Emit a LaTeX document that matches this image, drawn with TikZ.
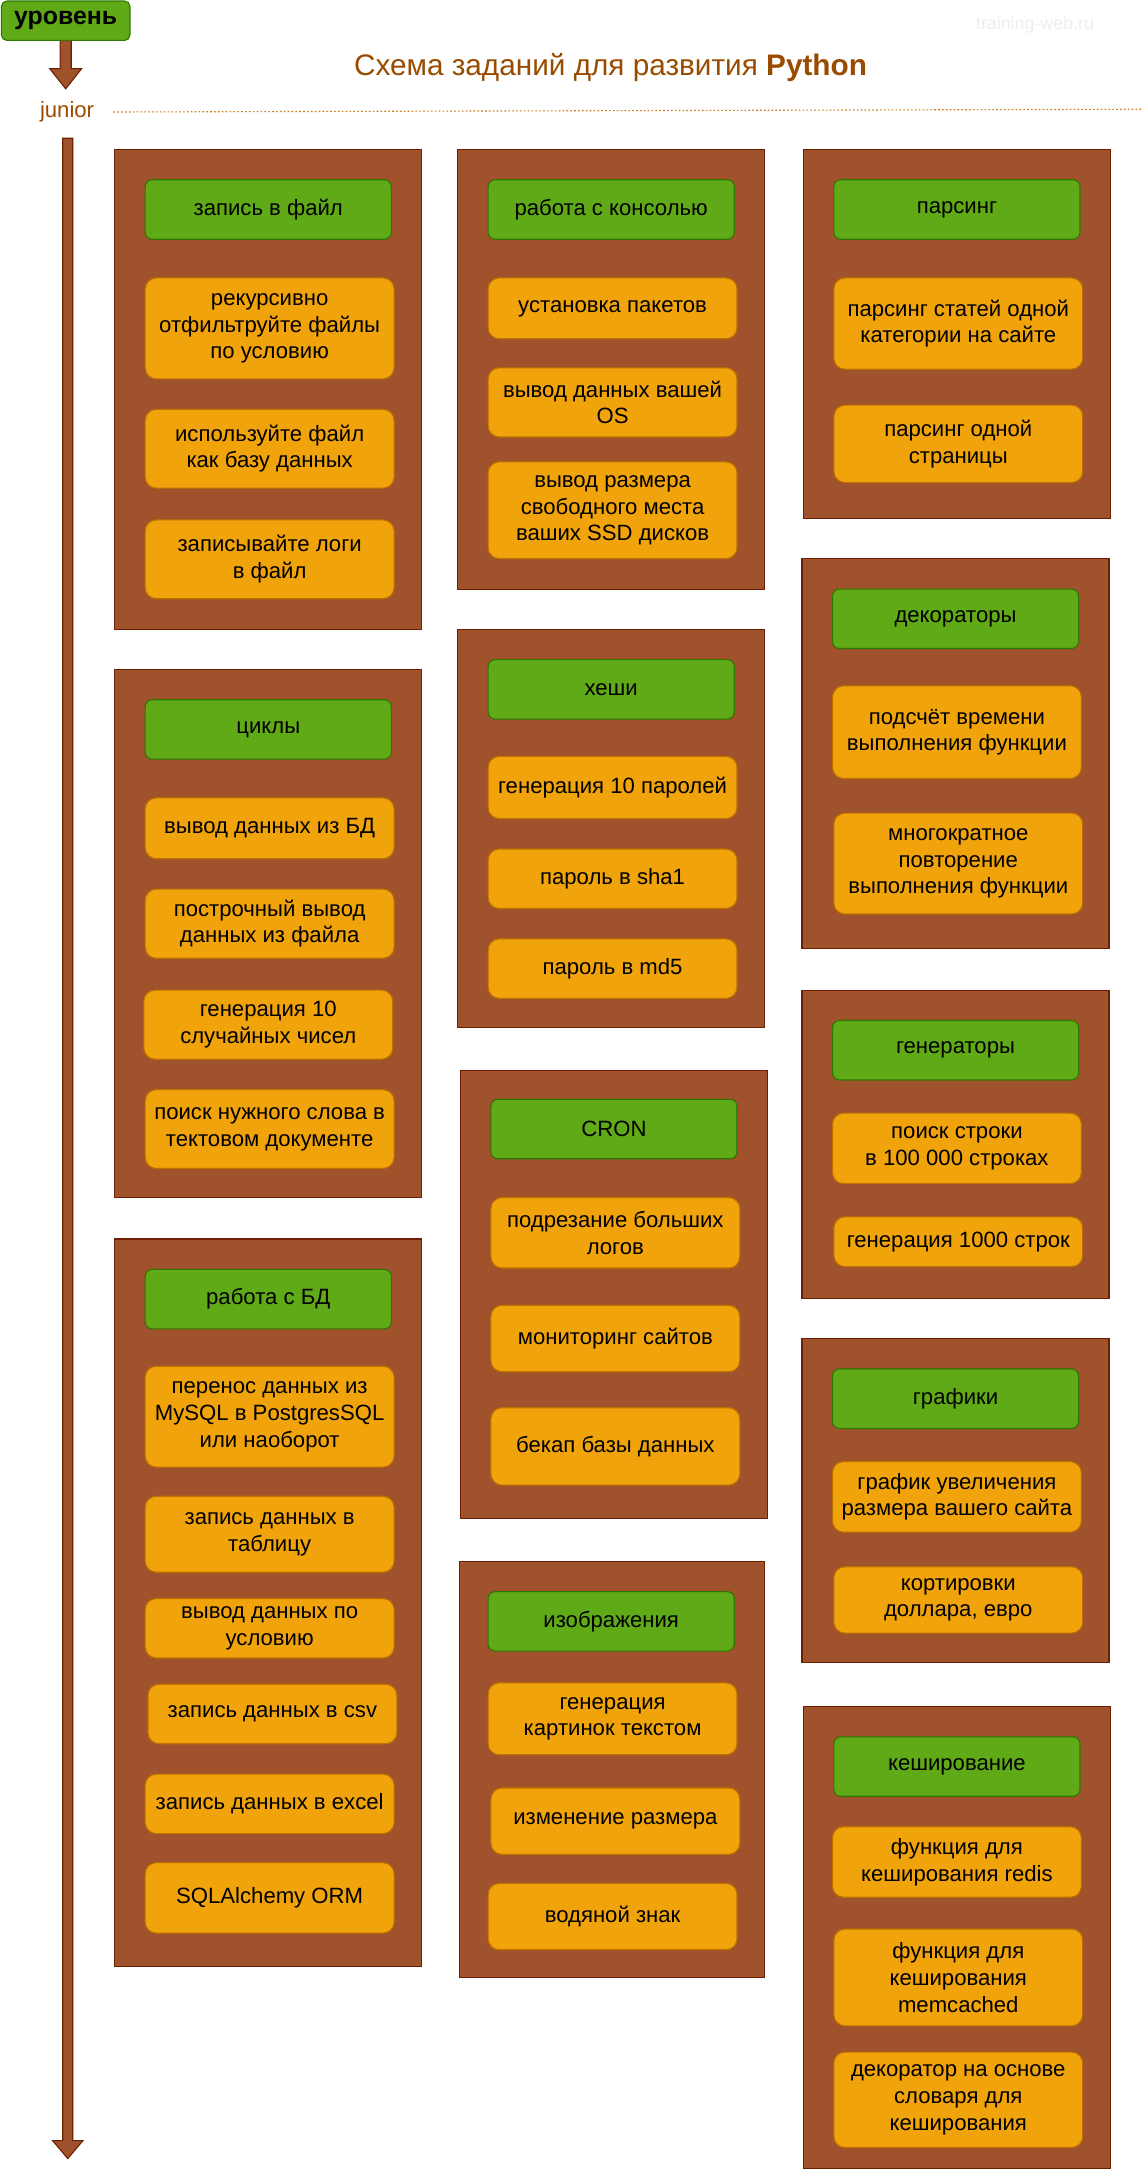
\documentclass[tikz,border=0pt]{standalone}
\usepackage{fontspec}
\setmainfont{Liberation Sans}
\definecolor{sienna}{HTML}{A0522D}
\definecolor{siennadark}{HTML}{6D1F00}
\definecolor{grn}{HTML}{60A917}
\definecolor{grndark}{HTML}{2D7600}
\definecolor{amber}{HTML}{F0A30A}
\definecolor{amberdark}{HTML}{BD7000}
\definecolor{titlec}{HTML}{994C00}
\definecolor{dotc}{HTML}{D07A1A}
\definecolor{wmark}{HTML}{EEEEEE}
\tikzset{
  panel/.style={draw=siennadark, fill=sienna, line width=0.8pt, inner sep=0pt},
  hdr/.style={draw=grndark, fill=grn, line width=0.8pt, rounded corners=5pt, align=center, inner sep=0pt,
    font=\fontsize{16}{19.3}\selectfont},
  task/.style={draw=amberdark, fill=amber, line width=0.8pt, rounded corners=8pt, align=center, inner sep=0pt,
    font=\fontsize{16}{19.3}\selectfont},
  blockarrow/.style={draw=siennadark, fill=sienna, line width=0.8pt, line join=miter},
}
\newcommand\bx[7]{\node[#1, minimum width={#5-#3}, minimum height={#6-#4}] (#2) at ({(#3+#5)/2},{(#4+#6)/2}) {#7};}
\newcommand\pnl[5]{\node[panel, minimum width={#4-#2}, minimum height={#5-#3}] (#1) at ({(#2+#4)/2},{(#3+#5)/2}) {};}
\begin{document}
\begin{tikzpicture}[x=1pt,y=-1pt]
\useasboundingbox (0,0) rectangle (829.5,1570);
% header
\node[text=wmark, font=\fontsize{12.9}{15}\selectfont] (wm) at (748.5,18) {training-web.ru};
\node[text=titlec, font=\fontsize{21.5}{25}\selectfont] (title) at (441.5,49) {Схема заданий для развития \textbf{Python}};
\node[draw=grndark, fill=grn, line width=0.8pt, rounded corners=4pt, minimum width=93pt, minimum height=28.5pt, inner sep=0pt,
  font=\fontsize{18}{21}\bfseries] (lvl) at (47.5,15) {уровень};
\node[text=titlec, font=\fontsize{16}{19}\selectfont] (junior) at (48.5,81) {junior};
\coordinate (dotstart) at (82,81);
\coordinate (dotend) at (826,79);
\draw[dotc, line width=0.8pt, dash pattern=on 1.2pt off 1.6pt] (dotstart) -- (dotend);
% top arrow
\draw[blockarrow] (lvl.south) ++(-4,0) -- ++(0,20) -- ++(-7.5,0) -- ++(11.5,14.6) -- ++(11.5,-14.6) -- ++(-7.5,0) -- ++(0,-20);
% main arrow
\coordinate (mainstart) at (49,100);
\draw[blockarrow] (mainstart) ++(-3.6,0) -- ++(0,1448) -- ++(-7.4,0) -- ++(11,13) -- ++(11,-13) -- ++(-7.4,0) -- ++(0,-1448) -- cycle;
% column 1
\pnl{pA1}{83}{108}{305}{455}
\bx{hdr}{a1h}{105}{130}{283}{173}{запись в файл}
\bx{task}{a1t1}{105}{201}{285}{274}{рекурсивно\\отфильтруйте файлы\\по условию}
\bx{task}{a1t2}{105}{296}{285}{353}{используйте файл\\как базу данных}
\bx{task}{a1t3}{105}{376}{285}{433}{записывайте логи\\в файл}
\pnl{pA2}{83}{484}{305}{866}
\bx{hdr}{a2h}{105}{506}{283}{549}{циклы}
\bx{task}{a2t1}{105}{577}{285}{621}{вывод данных из БД}
\bx{task}{a2t2}{105}{643}{285}{693}{построчный вывод\\данных из файла}
\bx{task}{a2t3}{104}{716}{284}{766}{генерация 10\\случайных чисел}
\bx{task}{a2t4}{105}{788}{285}{845}{поиск нужного слова в\\тектовом документе}
\pnl{pA3}{83}{896}{305}{1422}
\bx{hdr}{a3h}{105}{918}{283}{961}{работа с БД}
\bx{task}{a3t1}{105}{988}{285}{1061}{перенос данных из\\MySQL в PostgresSQL\\или наоборот}
\bx{task}{a3t2}{105}{1082}{285}{1137}{запись данных в\\таблицу}
\bx{task}{a3t3}{105}{1156}{285}{1199}{вывод данных по\\условию}
\bx{task}{a3t4}{107}{1218}{287}{1261}{запись данных в csv}
\bx{task}{a3t5}{105}{1283}{285}{1326}{запись данных в excel}
\bx{task}{a3t6}{105}{1347}{285}{1398}{SQLAlchemy ORM}
% column 2
\pnl{pB1}{331}{108}{553}{426}
\bx{hdr}{b1h}{353}{130}{531}{173}{работа с консолью}
\bx{task}{b1t1}{353}{201}{533}{245}{установка пакетов}
\bx{task}{b1t2}{353}{266}{533}{316}{вывод данных вашей\\OS}
\bx{task}{b1t3}{353}{334}{533}{404}{вывод размера\\свободного места\\ваших SSD дисков}
\pnl{pB2}{331}{455}{553}{743}
\bx{hdr}{b2h}{353}{477}{531}{520}{хеши}
\bx{task}{b2t1}{353}{547}{533}{592}{генерация 10 паролей}
\bx{task}{b2t2}{353}{614}{533}{657}{пароль в sha1}
\bx{task}{b2t3}{353}{679}{533}{722}{пароль в md5}
\pnl{pB3}{333}{774}{555}{1098}
\bx{hdr}{b3h}{355}{795}{533}{838}{CRON}
\bx{task}{b3t1}{355}{866}{535}{917}{подрезание больших\\логов}
\bx{task}{b3t2}{355}{944}{535}{992}{мониторинг сайтов}
\bx{task}{b3t3}{355}{1018}{535}{1074}{бекап базы данных}
\pnl{pB4}{332}{1129}{553}{1430}
\bx{hdr}{b4h}{353}{1151}{531}{1194}{изображения}
\bx{task}{b4t1}{353}{1217}{533}{1269}{генерация\\картинок текстом}
\bx{task}{b4t2}{355}{1293}{535}{1341}{изменение размера}
\bx{task}{b4t3}{353}{1362}{533}{1410}{водяной знак}
% column 3
\pnl{pC1}{581}{108}{803}{375}
\bx{hdr}{c1h}{603}{130}{781}{173}{парсинг}
\bx{task}{c1t1}{603}{201}{783}{267}{парсинг статей одной\\категории на сайте}
\bx{task}{c1t2}{603}{293}{783}{349}{парсинг одной\\страницы}
\pnl{pC2}{580}{404}{802}{686}
\bx{hdr}{c2h}{602}{426}{780}{469}{декораторы}
\bx{task}{c2t1}{602}{496}{782}{563}{подсчёт времени\\выполнения функции}
\bx{task}{c2t2}{603}{588}{783}{661}{многократное\\повторение\\выполнения функции}
\pnl{pC3}{580}{716}{802}{939}
\bx{hdr}{c3h}{602}{738}{780}{781}{генераторы}
\bx{task}{c3t1}{602}{805}{782}{856}{поиск строки\\в 100 000 строках}
\bx{task}{c3t2}{603}{880}{783}{916}{генерация 1000 строк}
\pnl{pC4}{580}{968}{802}{1202}
\bx{hdr}{c4h}{602}{990}{780}{1033}{графики}
\bx{task}{c4t1}{602}{1057}{782}{1108}{график увеличения\\размера вашего сайта}
\bx{task}{c4t2}{603}{1133}{783}{1181}{кортировки\\доллара, евро}
\pnl{pC5}{581}{1234}{803}{1568}
\bx{hdr}{c5h}{603}{1256}{781}{1299}{кеширование}
\bx{task}{c5t1}{602}{1321}{782}{1372}{функция для\\кеширования redis}
\bx{task}{c5t2}{603}{1395}{783}{1465}{функция для\\кеширования\\memcached}
\bx{task}{c5t3}{603}{1484}{783}{1553}{декоратор на основе\\словаря для\\кеширования}
\end{tikzpicture}
\end{document}
